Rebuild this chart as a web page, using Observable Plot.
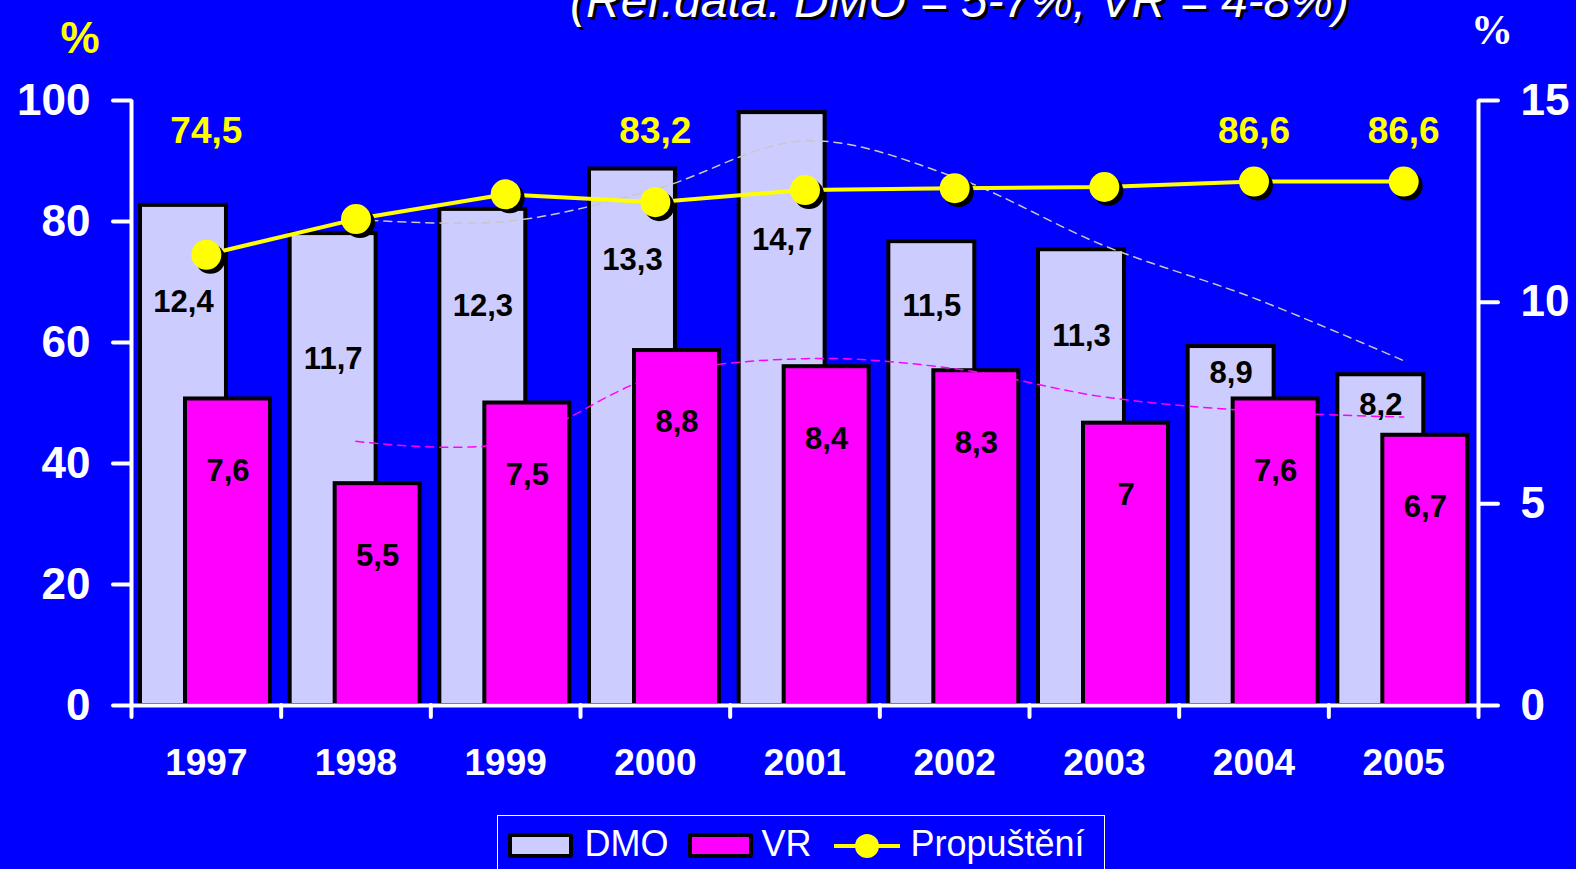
<!DOCTYPE html>
<html>
<head>
<meta charset="utf-8">
<script src="https://cdn.jsdelivr.net/npm/d3@7"></script>
<script src="https://cdn.jsdelivr.net/npm/@observablehq/plot@0.6"></script>
<style>
  html, body { margin: 0; padding: 0; background: #0000FF; }
  #wrap { position: relative; width: 1576px; height: 869px; overflow: hidden; background: #0000FF; font-family: 'Liberation Sans', Arial, sans-serif; }
  #chart { position: absolute; left: 0; top: 0; }
  .abs { position: absolute; white-space: nowrap; }
  #title { left: 570px; top: -23px; font: italic 48px/48px 'Liberation Sans', Arial, sans-serif; color: #fff; text-shadow: 3px 3px 0 #000; }
  #pctL { left: 40px; width: 80px; text-align: center; top: 16px; font: bold 44px/44px 'Liberation Sans', Arial, sans-serif; color: #FFFF00; }
  #pctR { left: 1452px; width: 80px; text-align: center; top: 9px; font: bold 42px/42px 'Liberation Serif', 'Times New Roman', serif; color: #fff; }
  #legend { left: 497px; top: 815px; width: 608px; height: 90px; border: 1.5px solid #fff; box-sizing: border-box; }
  .sw { position: absolute; top: 17px; width: 57px; height: 17px; border: 4px solid #000; border-radius: 3px; }
  .lt { position: absolute; top: 10px; font: 36px/36px 'Liberation Sans', Arial, sans-serif; color: #fff; }
</style>
</head>
<body>
<div id="wrap">
  <div id="chart"></div>
  <div id="title" class="abs">(Ref.data: DMO = 5-7%, VR = 4-8%)</div>
  <div id="pctL" class="abs">%</div>
  <div id="pctR" class="abs">%</div>
  <div id="legend" class="abs"></div>
</div>
<script>
// ---- data ----
const years = [1997, 1998, 1999, 2000, 2001, 2002, 2003, 2004, 2005];
const dmo = [12.4, 11.7, 12.3, 13.3, 14.7, 11.5, 11.3, 8.9, 8.2];
const vr = [7.6, 5.5, 7.5, 8.8, 8.4, 8.3, 7, 7.6, 6.7];
const propusteni = [74.5, 80.4, 84.5, 83.2, 85.2, 85.5, 85.7, 86.6, 86.6];
const labeledYears = [1997, 2000, 2004, 2005];
const leftTicks = [0, 20, 40, 60, 80, 100];
const rightTicks = [0, 5, 10, 15];
const seriesNames = ["DMO", "VR", "Propuštění"];

// ---- derived table ----
const k = 100 / 15; // right axis (0–15) onto left axis (0–100)
const fmt = v => String(v).replace(".", ",");
const rows = years.map((year, i) => ({year, i, dmo: dmo[i], vr: vr[i], prop: propusteni[i]}));
// 2-period moving-average trend lines (as in the original)
const ma = rows.slice(1).map(r => ({
  i: r.i,
  dmo: (dmo[r.i - 1] + dmo[r.i]) / 2,
  vr: (vr[r.i - 1] + vr[r.i]) / 2
}));

const LAV = "#CCCCFF", MAG = "#FF00FF", YEL = "#FFFF00";
const FONT = "'Liberation Sans', Arial, sans-serif";

const chart = Plot.plot({
  width: 1576,
  height: 800,
  marginLeft: 131,
  marginRight: 98,
  marginTop: 100,
  marginBottom: 95,
  x: {domain: [0, years.length]},
  y: {domain: [0, 100]},
  style: {background: "transparent", color: "white", fontFamily: FONT, fontWeight: "bold", overflow: "visible"},
  marks: [
    // bars
    Plot.rect(rows, {x1: "i", x2: d => d.i + 1, y1: 0, y2: d => d.dmo * k,
      insetLeft: 9, insetRight: 54.7, fill: LAV, stroke: "black", strokeWidth: 4}),
    Plot.rect(rows, {x1: "i", x2: d => d.i + 1, y1: 0, y2: d => d.vr * k,
      insetLeft: 54, insetRight: 10.7, fill: MAG, stroke: "black", strokeWidth: 4}),
    // bar labels
    Plot.text(rows, {x: "i", y: d => (d.dmo + d.vr) / 2 * k, dx: 52, text: d => fmt(d.dmo),
      fill: "black", fontSize: 31, fontWeight: "bold"}),
    Plot.text(rows, {x: "i", y: d => d.vr * k, dx: 96.5, dy: 72, text: d => fmt(d.vr),
      fill: "black", fontSize: 31, fontWeight: "bold"}),
    // moving average trend lines
    Plot.line(ma, {x: d => d.i + 0.5, y: d => d.dmo * k, stroke: "#C8C8C8", strokeWidth: 1.5,
      strokeDasharray: "8,6", curve: "catmull-rom"}),
    Plot.line(ma, {x: d => d.i + 0.5, y: d => d.vr * k, stroke: MAG, strokeWidth: 1.5,
      strokeDasharray: "8,6", curve: "catmull-rom"}),
    // axis lines
    Plot.ruleX([0, years.length], {y1: 0, y2: 100, stroke: "white", strokeWidth: 4}),
    Plot.ruleY([0], {x1: 0, x2: years.length, stroke: "white", strokeWidth: 4}),
    // axes
    Plot.axisY(leftTicks, {anchor: "left", tickSize: 18, tickPadding: 23, fontSize: 44, fontWeight: "bold",
      strokeWidth: 4, strokeLinecap: "round", label: null}),
    Plot.axisY(rightTicks.map(v => v * k), {anchor: "right", tickSize: 19, tickPadding: 23, fontSize: 44,
      fontWeight: "bold", tickFormat: v => String(Math.round(v / k)), strokeWidth: 4, strokeLinecap: "round", label: null}),
    Plot.axisX(d3.range(years.length + 1), {anchor: "bottom", tickSize: 12, tickFormat: () => "",
      strokeWidth: 4, strokeLinecap: "round", label: null}),
    Plot.axisX(rows.map(d => d.i + 0.5), {anchor: "bottom", tickSize: 0, tickPadding: 43, fontSize: 37,
      fontWeight: "bold", tickFormat: v => String(years[Math.floor(v)]), label: null}),
    // Propuštění line
    Plot.line(rows, {x: d => d.i + 0.5, y: "prop", stroke: YEL, strokeWidth: 4}),
    Plot.dot(rows, {x: d => d.i + 0.5, y: "prop", r: 15, fill: "black", dx: 4, dy: 4}),
    Plot.dot(rows, {x: d => d.i + 0.5, y: "prop", r: 15, fill: YEL}),
    Plot.text(rows.filter(d => labeledYears.includes(d.year)), {x: d => d.i + 0.5, frameAnchor: "top",
      lineAnchor: "middle", dy: 31, text: d => fmt(d.prop), fill: YEL, fontSize: 37, fontWeight: "bold"})
  ]
});
document.getElementById("chart").appendChild(chart);

// ---- legend ----
const legend = document.getElementById("legend");
const L0 = 497 + 1.5;
legend.innerHTML = `
  <div class="sw" style="left:${508 - L0}px;background:${LAV}"></div>
  <div class="lt" style="left:${585 - L0}px">${seriesNames[0]}</div>
  <div class="sw" style="left:${688 - L0}px;background:${MAG}"></div>
  <div class="lt" style="left:${762 - L0}px">${seriesNames[1]}</div>
  <svg style="position:absolute;left:${833 - L0}px;top:14px" width="70" height="32">
    <line x1="1" y1="16" x2="67" y2="16" stroke="${YEL}" stroke-width="4"/>
    <circle cx="34" cy="16" r="12" fill="${YEL}"/>
  </svg>
  <div class="lt" style="left:${911 - L0}px">${seriesNames[2]}</div>`;
</script>
</body>
</html>
